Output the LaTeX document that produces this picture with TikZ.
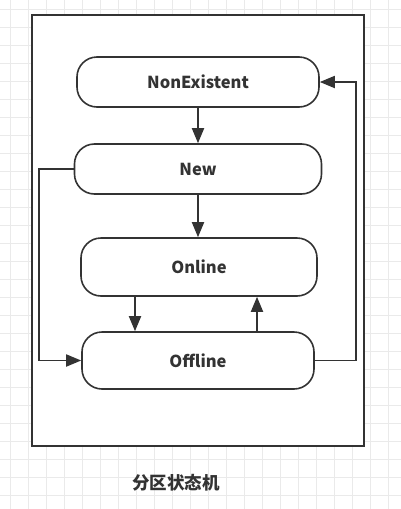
\documentclass[tikz,border=0pt]{standalone}
\usepackage{fontspec}
\setmainfont{Noto Sans CJK SC}
\usetikzlibrary{arrows.meta}

\begin{document}
\begin{tikzpicture}[x=1pt,y=-1pt,
    state/.style={draw=ink, line width=1.6pt, fill=white, rounded corners=20pt,
        minimum width=242pt, minimum height=50pt, inner sep=0pt,
        font=\fontsize{16.5}{20}\selectfont\bfseries, text=ink},
    trans/.style={draw=ink, line width=1.8pt, -{Triangle[length=15pt,width=12pt]}}]
    % Define colors
    \definecolor{ink}{RGB}{51,51,51}
    \definecolor{gridline}{RGB}{234,234,234}

    \useasboundingbox (0,0) rectangle (401,509);
    \fill[white] (0,0) rectangle (401,509);

    % Grid
    \foreach \x in {10,28,...,400}
        \draw[gridline] (\x,0) -- (\x,509);
    \foreach \y in {9,27,...,508}
        \draw[gridline] (0,\y) -- (401,\y);

    % Frame
    \draw[ink, line width=2pt, fill=white] (32,15) rectangle (364,446);

    % States
    \node[state] (nonexist) at (198,82) {NonExistent};
    \node[state, minimum width=247pt] (new) at (198,169) {New};
    \node[state, minimum width=236pt, minimum height=58pt] (online) at (199,267) {Online};
    \node[state, minimum width=232pt, minimum height=57pt] (offline) at (198,360.5) {Offline};

    % Transitions
    \draw[trans] (nonexist) -- (new);
    \draw[trans] (new.south) -- (new.south |- online.north);
    \draw[trans] ([xshift=-64pt]online.south) -- ([xshift=-64pt]online.south |- offline.north);
    \draw[trans] ([xshift=59pt]offline.north) -- ([xshift=59pt]offline.north |- online.south);
    \draw[trans] (new.west) -- ++(-35,0) |- (offline.west);
    \draw[trans] (offline.east) -- ++(41,0) |- (nonexist.east);

    % Caption
    \node[font=\fontsize{17.5}{20}\selectfont\bfseries, text=ink] (caption) at (176,483) {分区状态机};
\end{tikzpicture}
\end{document}
